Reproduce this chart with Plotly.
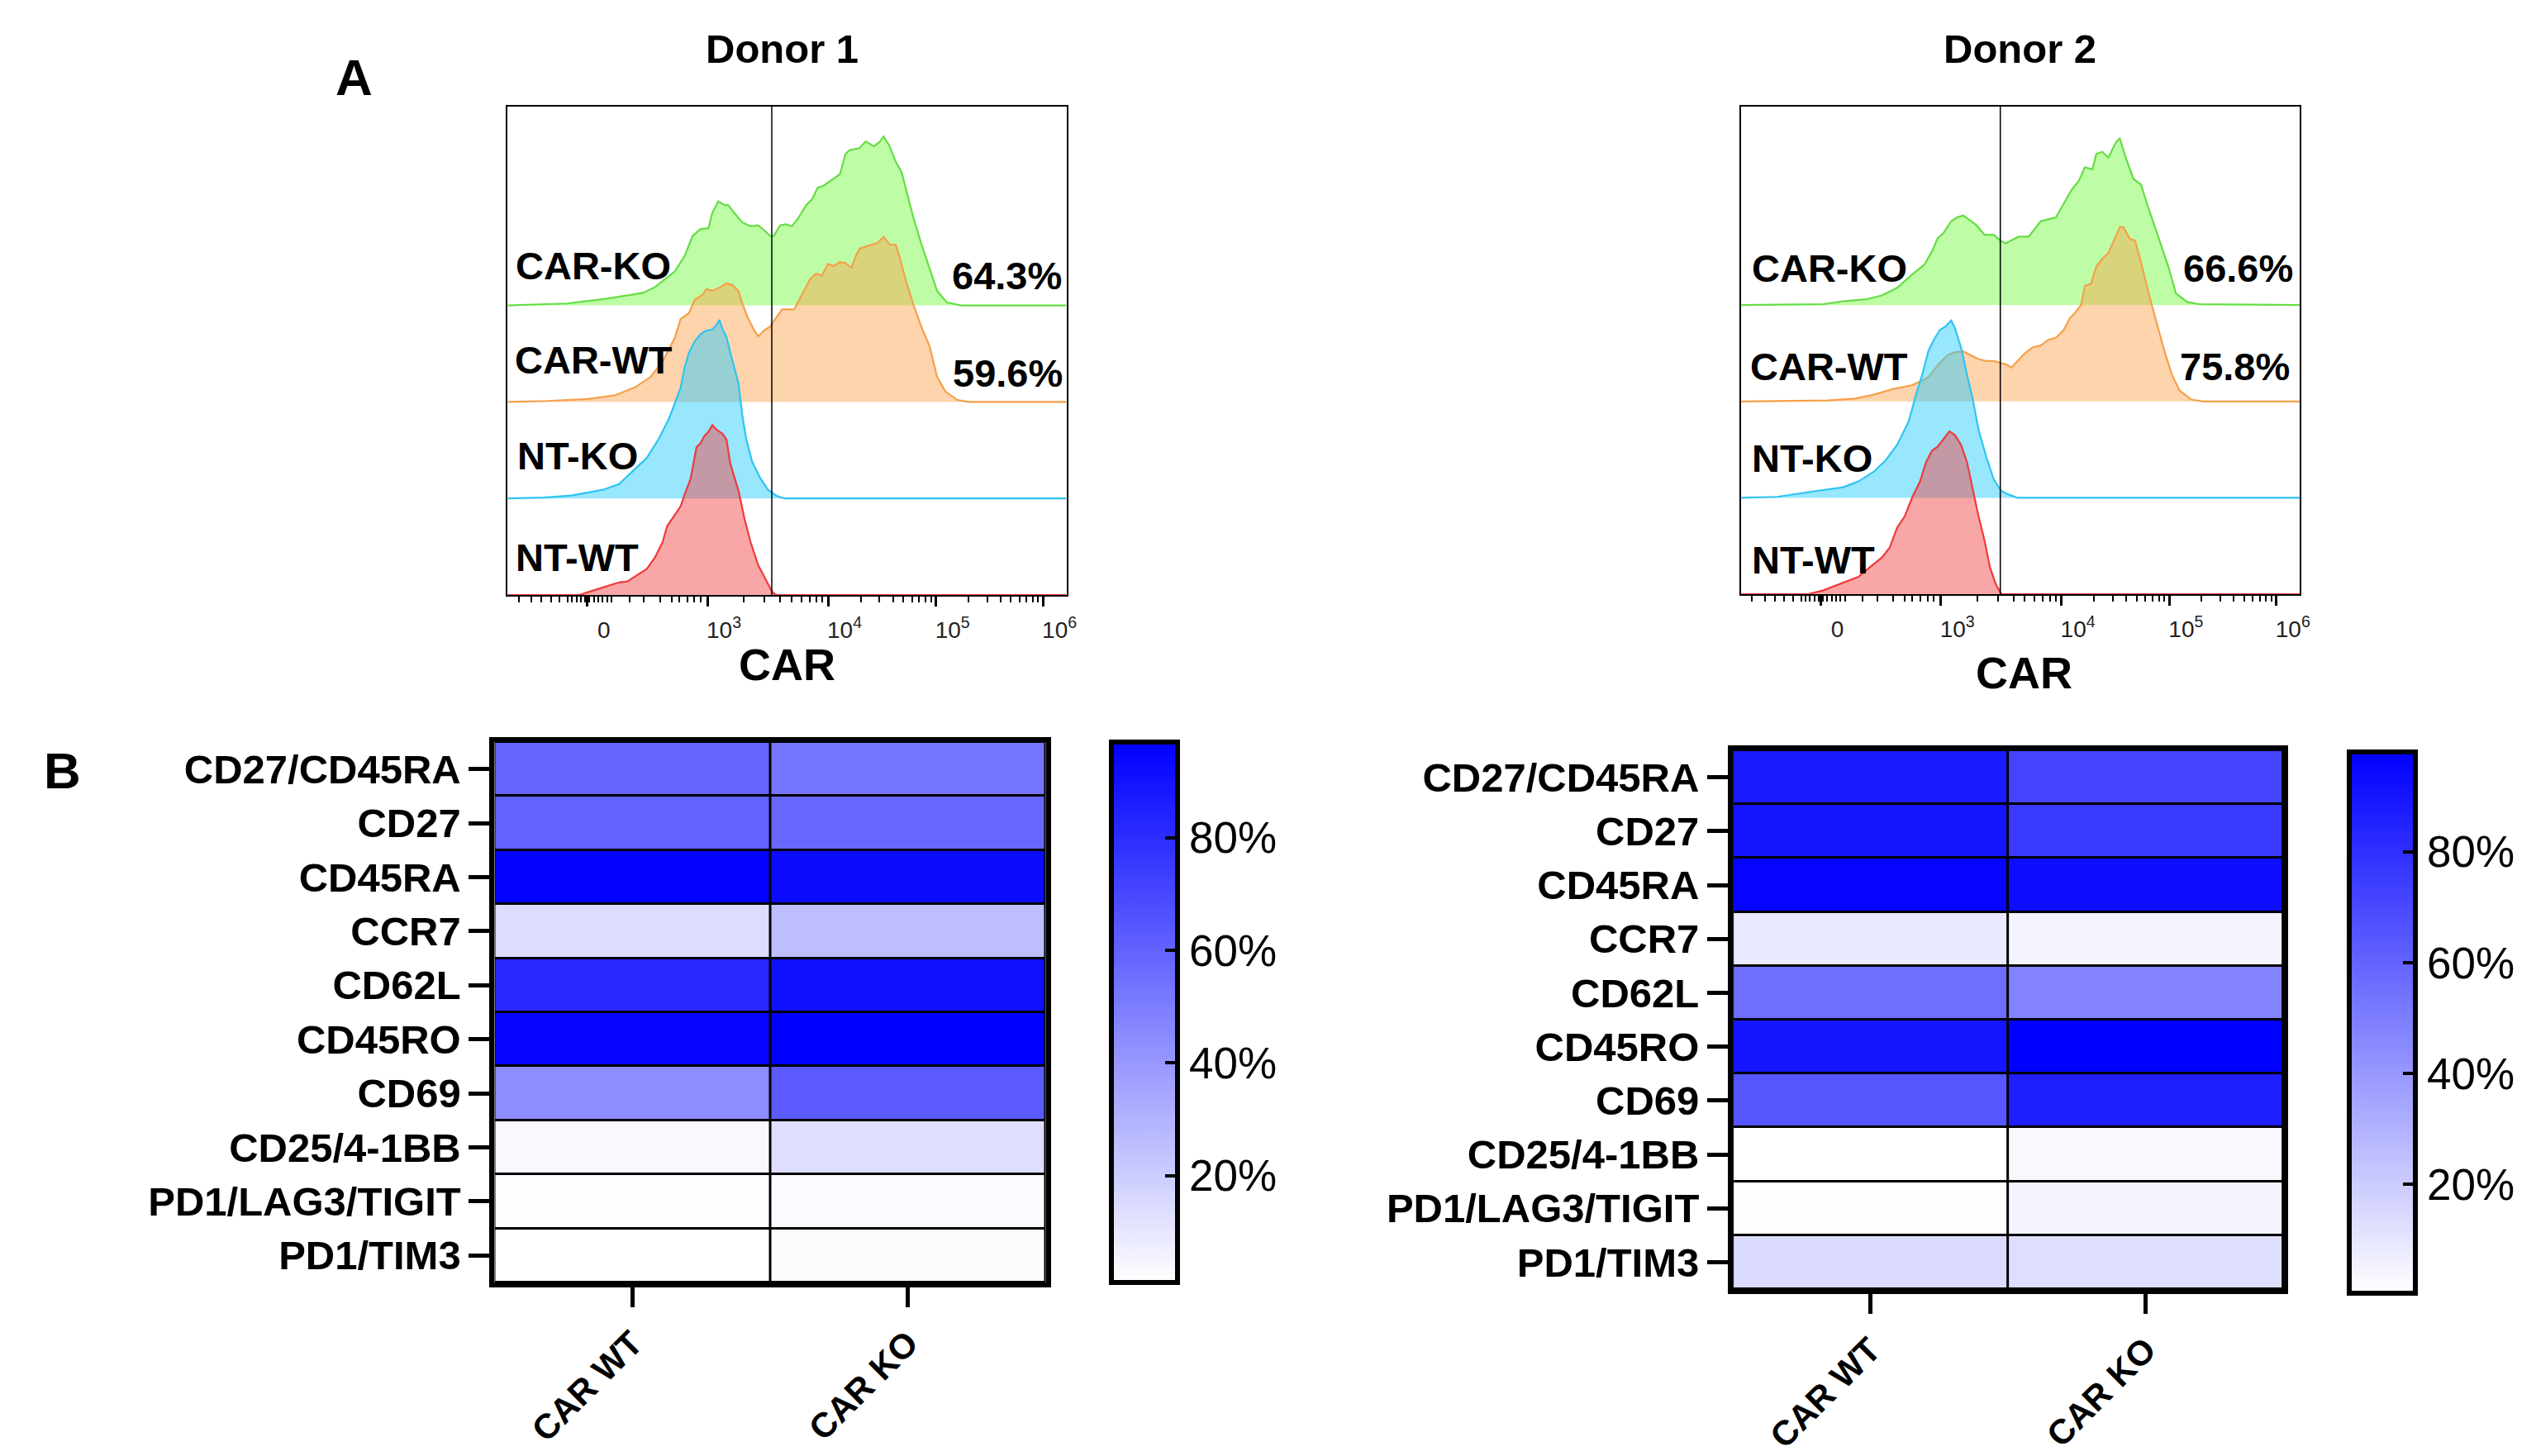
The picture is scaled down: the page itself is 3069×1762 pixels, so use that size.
import plotly.graph_objects as go

W, H = 3069, 1762
FONT = "Liberation Sans, Arial, Helvetica, sans-serif"

# ---------------- Panel A data (histograms, channel scale 0-1024, normalized height) ----------------
d1_cko_x = [0,109,182,248,270,306,324,339,353,368,375,386,397,404,415,430,445,459,470,481,488,499,510,521,532,547,558,568,579,594,609,619,627,645,656,671,681,689,700,711,722,732,743,758,773,787,805,831,1024]
d1_cko_h = [0,0.02,0.07,0.13,0.19,0.35,0.51,0.72,0.79,0.80,0.96,1.08,1.04,1.04,0.96,0.86,0.82,0.83,0.78,0.72,0.72,0.83,0.84,0.82,0.90,1.04,1.10,1.22,1.24,1.30,1.36,1.57,1.61,1.63,1.70,1.65,1.69,1.75,1.65,1.49,1.38,1.16,0.92,0.64,0.39,0.15,0.03,0,0]
d1_cwt_x = [0,73,146,197,233,262,284,306,317,332,343,357,364,375,390,401,412,423,430,441,452,459,470,481,488,503,525,539,554,565,576,587,598,609,619,630,638,645,656,667,678,689,700,711,718,729,743,758,773,787,802,824,845,1024]
d1_cwt_h = [0,0.01,0.03,0.07,0.15,0.26,0.42,0.66,0.86,0.92,1.06,1.11,1.17,1.15,1.19,1.23,1.21,1.15,1.02,0.86,0.74,0.68,0.74,0.78,0.84,0.96,0.96,1.11,1.27,1.33,1.31,1.43,1.41,1.45,1.44,1.39,1.51,1.59,1.61,1.63,1.65,1.71,1.63,1.63,1.51,1.27,1.02,0.78,0.58,0.26,0.11,0.02,0,0]
d1_nko_x = [0,66,117,146,175,204,233,255,277,295,306,317,324,332,343,353,364,375,383,388,394,401,408,415,423,430,437,448,463,477,492,507,1024]
d1_nko_h = [0,0.01,0.03,0.06,0.09,0.15,0.30,0.42,0.62,0.82,0.98,1.15,1.35,1.51,1.63,1.70,1.74,1.75,1.80,1.85,1.75,1.67,1.51,1.35,1.19,0.86,0.62,0.38,0.21,0.09,0.03,0,0]
d1_nwt_x = [0,131,153,182,204,219,233,255,270,284,292,302,317,324,335,346,353,361,368,375,383,394,401,408,423,434,445,459,474,485,492,1024]
d1_nwt_h = [0,0,0.04,0.09,0.13,0.14,0.19,0.27,0.39,0.55,0.71,0.79,0.92,1.04,1.20,1.53,1.57,1.65,1.69,1.76,1.71,1.67,1.61,1.36,1.08,0.79,0.55,0.31,0.15,0.03,0,0]

d2_cko_x = [0,151,187,229,258,286,314,336,350,360,371,385,396,407,417,431,446,463,475,485,495,509,527,538,549,563,577,591,605,619,630,644,651,662,673,680,687,694,705,719,733,744,754,768,783,797,818,839,1024]
d2_cko_h = [0,0.01,0.04,0.06,0.10,0.18,0.32,0.42,0.56,0.69,0.75,0.87,0.91,0.93,0.89,0.83,0.73,0.73,0.67,0.64,0.67,0.71,0.71,0.79,0.87,0.89,0.91,1.05,1.19,1.29,1.43,1.41,1.57,1.59,1.53,1.61,1.69,1.73,1.53,1.31,1.25,1.05,0.89,0.65,0.40,0.12,0.03,0.01,0]
d2_cwt_x = [0,158,208,243,279,314,343,364,378,392,407,421,435,449,463,475,488,495,506,520,534,549,563,577,591,602,612,623,630,641,651,662,673,683,694,701,712,722,733,747,761,776,790,804,825,847,1024]
d2_cwt_h = [0,0.01,0.03,0.07,0.13,0.17,0.25,0.40,0.48,0.51,0.52,0.48,0.44,0.42,0.42,0.40,0.38,0.35,0.42,0.50,0.56,0.58,0.64,0.66,0.74,0.86,0.92,1.00,1.20,1.22,1.40,1.48,1.54,1.67,1.81,1.81,1.69,1.67,1.44,1.12,0.83,0.52,0.27,0.11,0.02,0,0]
d2_nko_x = [0,66,137,187,215,243,265,286,307,321,332,343,353,364,375,385,392,403,414,424,435,449,463,477,492,506,1024]
d2_nko_h = [0,0.01,0.07,0.11,0.17,0.27,0.39,0.55,0.79,1.08,1.28,1.52,1.64,1.74,1.78,1.84,1.76,1.56,1.28,1.04,0.71,0.43,0.19,0.07,0.03,0,0]
d2_nwt_x = [0,123,151,187,215,236,258,272,286,300,314,328,339,350,360,371,382,392,403,414,424,435,446,456,467,477,1024]
d2_nwt_h = [0,0,0.04,0.12,0.18,0.28,0.38,0.48,0.69,0.81,1.01,1.17,1.37,1.49,1.53,1.61,1.69,1.65,1.55,1.37,1.09,0.81,0.56,0.28,0.10,0,0]

gate_d1 = 484
gate_d2 = 475
pct_d1 = ["64.3%", "59.6%"]   # CAR-KO, CAR-WT
pct_d2 = ["66.6%", "75.8%"]
sample_names = ["CAR-KO", "CAR-WT", "NT-KO", "NT-WT"]

# axis ticks (channel positions of decades on the biexponential display)
major_ticks = [146, 366, 587, 785, 981]
major_text = ["0", "10<sup>3</sup>", "10<sup>4</sup>", "10<sup>5</sup>", "10<sup>6</sup>"]
minor_ticks = [20, 44, 62, 79, 95, 110, 118, 126, 134, 142, 150, 158, 166, 174, 182, 190,
               223, 250, 279, 300, 314, 329, 342, 353,
               433, 471, 499, 520, 538, 553, 566, 577,
               647, 681, 706, 725, 741, 754, 766, 776,
               844, 879, 903, 922, 938, 951, 962, 972]

# ---------------- Panel B data (heatmaps, % positive) ----------------
markers = ["CD27/CD45RA", "CD27", "CD45RA", "CCR7", "CD62L", "CD45RO", "CD69",
           "CD25/4-1BB", "PD1/LAG3/TIGIT", "PD1/TIM3"]
groups = ["CAR WT", "CAR KO"]
d1_wt = [58.6, 60.0, 96.0, 14.0, 82.0, 95.0, 44.0, 3.6, 1.8, 1.0]
d1_ko = [53.0, 58.0, 93.0, 26.0, 91.0, 97.0, 63.0, 13.5, 3.0, 2.0]
d2_wt = [88.0, 90.0, 96.0, 9.0, 56.0, 90.0, 65.0, 0.4, 1.0, 14.0]
d2_ko = [72.0, 76.0, 93.0, 4.6, 48.0, 98.0, 86.0, 3.0, 4.6, 13.0]
cb_ticks = [20, 40, 60, 80]
cb_text = ["20%", "40%", "60%", "80%"]

# ---------------- layout helpers ----------------
def xd(a, b):
    return [a / W, b / W]

def yd(top, bottom):
    return [1 - bottom / H, 1 - top / H]

fig = go.Figure()

line_cols = ["#66dd44", "#f5a04a", "#2ec4f2", "#ee3b3b"]
fill_cols = ["rgba(120,250,70,0.48)", "rgba(250,160,70,0.45)",
             "rgba(40,205,250,0.48)", "rgba(240,70,70,0.48)"]

def add_hist(xs_list, hs_list, xa, ya):
    for i, (xs, hs) in enumerate(zip(xs_list, hs_list)):
        base = 3 - i
        fig.add_trace(go.Scatter(
            x=xs, y=[base + v for v in hs], mode="lines", fill="toself",
            fillcolor=fill_cols[i], line=dict(color=line_cols[i], width=2.2),
            xaxis=xa, yaxis=ya, showlegend=False, hoverinfo="skip"))

add_hist([d1_cko_x, d1_cwt_x, d1_nko_x, d1_nwt_x], [d1_cko_h, d1_cwt_h, d1_nko_h, d1_nwt_h], "x", "y")
add_hist([d2_cko_x, d2_cwt_x, d2_nko_x, d2_nwt_x], [d2_cko_h, d2_cwt_h, d2_nko_h, d2_nwt_h], "x2", "y2")

cscale = [[0, "#ffffff"], [1, "#0000ff"]]

def add_heat(wt, ko, xa, ya, cmin, cmax, cb_x, cb_yc, cb_len):
    fig.add_trace(go.Heatmap(
        z=[[a, b] for a, b in zip(wt, ko)], x=groups, y=markers,
        colorscale=cscale, zmin=cmin, zmax=cmax, xgap=3, ygap=3,
        xaxis=xa, yaxis=ya, hoverinfo="skip",
        colorbar=dict(x=cb_x, xanchor="left", xref="paper", y=cb_yc, yanchor="middle",
                      len=cb_len, lenmode="pixels", thickness=80, thicknessmode="pixels",
                      outlinewidth=6, outlinecolor="black", xpad=0, ypad=0,
                      ticks="inside", ticklen=18, tickwidth=4, tickcolor="black",
                      tickvals=cb_ticks, ticktext=cb_text,
                      tickfont=dict(size=53, color="black", family=FONT))))

add_heat(d1_wt, d1_ko, "x3", "y3", 1.0, 97.0, 1343 / W, 1 - 1217 / H, 654)
add_heat(d2_wt, d2_ko, "x4", "y4", 0.4, 98.0, 2847 / W, 1 - 1229.5 / H, 655)

# empty traces to host the colorbar left-edge tick axes
fig.add_trace(go.Scatter(x=[None], y=[None], xaxis="x3", yaxis="y5", showlegend=False, hoverinfo="skip"))
fig.add_trace(go.Scatter(x=[None], y=[None], xaxis="x4", yaxis="y6", showlegend=False, hoverinfo="skip"))

hist_x = dict(range=[0, 1024], showline=True, mirror=True, linewidth=2, linecolor="black",
              ticks="outside", ticklen=12, tickwidth=3, tickcolor="black",
              tickmode="array", tickvals=major_ticks, ticktext=major_text,
              tickfont=dict(size=28, color="#222222", family=FONT),
              ticklabelshift=20, ticklabelstandoff=4,
              minor=dict(tickmode="array", tickvals=minor_ticks, ticks="outside",
                         ticklen=7, tickwidth=2, tickcolor="black", showgrid=False),
              showgrid=False, zeroline=False, fixedrange=True)
hist_y = dict(range=[0, 5.06], showline=True, mirror=True, linewidth=2, linecolor="black",
              ticks="", showticklabels=False, showgrid=False, zeroline=False)

heat_x = dict(showline=True, mirror=True, linewidth=6, linecolor="black",
              ticks="outside", ticklen=24, tickwidth=5, tickcolor="black", tickangle=-45,
              tickfont=dict(size=42, color="black", family=FONT, weight="bold"),
              ticklabelstandoff=2, showgrid=False, zeroline=False)
heat_y = dict(showline=True, mirror=True, linewidth=6, linecolor="black", autorange="reversed",
              ticks="outside", ticklen=25, tickwidth=5, tickcolor="black",
              tickfont=dict(size=49, color="black", family=FONT, weight="bold"),
              showgrid=False, zeroline=False)

def cb_axis(overlay, pos, cmin, cmax):
    return dict(overlaying=overlay, anchor="free", position=pos, side="left",
                range=[cmin, cmax], tickmode="array", tickvals=cb_ticks,
                ticks="inside", ticklen=18, tickwidth=4, tickcolor="black",
                showticklabels=False, showline=False, showgrid=False, zeroline=False)

fig.update_layout(
    width=W, height=H, margin=dict(l=0, r=0, t=0, b=0),
    paper_bgcolor="white", plot_bgcolor="white",
    font=dict(family=FONT, color="black"),
    xaxis=dict(domain=xd(609, 1288), anchor="y", **hist_x),
    yaxis=dict(domain=yd(121, 712), anchor="x", **hist_y),
    xaxis2=dict(domain=xd(2108, 2787), anchor="y2", **hist_x),
    yaxis2=dict(domain=yd(121, 711), anchor="x2", **hist_y),
    xaxis3=dict(domain=xd(593, 1263), anchor="y3", **heat_x),
    yaxis3=dict(domain=yd(890, 1544), anchor="x3", **heat_y),
    xaxis4=dict(domain=xd(2098, 2767), anchor="y4", **heat_x),
    yaxis4=dict(domain=yd(900, 1552), anchor="x4", **heat_y),
    yaxis5=cb_axis("y3", 1346 / W, 1.0, 97.0),
    yaxis6=cb_axis("y4", 2850 / W, 0.4, 98.0),
)

# black backing behind heatmap cells -> cell separator lines
for xa in ["x3", "x4"]:
    ya = "y" + xa[1:]
    fig.add_shape(type="rect", xref=f"{xa} domain", yref=f"{ya} domain",
                  x0=0, x1=1, y0=0, y1=1, fillcolor="black", line_width=0, layer="below")

# gate lines
fig.add_shape(type="line", xref="x", yref="y domain", x0=gate_d1, x1=gate_d1, y0=0, y1=1,
              line=dict(color="black", width=1.5))
fig.add_shape(type="line", xref="x2", yref="y2 domain", x0=gate_d2, x1=gate_d2, y0=0, y1=1,
              line=dict(color="black", width=1.5))

# histogram labels
def hist_labels(xa, ya, name_pos, pct, pct_pos):
    for name, (x, y) in zip(sample_names, name_pos):
        fig.add_annotation(x=x, y=y, xref=xa, yref=ya, text=f"<b>{name}</b>", showarrow=False,
                           xanchor="left", yanchor="middle", font=dict(size=47, color="black"))
    for t, (x, y) in zip(pct, pct_pos):
        fig.add_annotation(x=x, y=y, xref=xa, yref=ya, text=f"<b>{t}</b>", showarrow=False,
                           xanchor="right", yanchor="middle", font=dict(size=47, color="black"))

hist_labels("x", "y", [(12, 3.41), (10, 2.44), (14, 1.44), (12, 0.39)], pct_d1, [(1018, 3.31), (1020, 2.30)])
hist_labels("x2", "y2", [(16, 3.38), (14, 2.36), (16, 1.41), (16, 0.36)], pct_d2, [(1015, 3.38), (1008, 2.36)])

def paper_text(x, y, text, size, bold=True):
    fig.add_annotation(x=x / W, y=1 - y / H, xref="paper", yref="paper",
                       text=f"<b>{text}</b>" if bold else text, showarrow=False,
                       xanchor="center", yanchor="middle", font=dict(size=size, color="black"))

paper_text(942, 51, "Donor 1", 49)
paper_text(2447, 51, "Donor 2", 49)
paper_text(422, 86, "A", 62)
paper_text(68, 924, "B", 62)
paper_text(949, 796, "CAR", 54)
paper_text(2452, 806, "CAR", 54)

fig.write_html("out.html")
